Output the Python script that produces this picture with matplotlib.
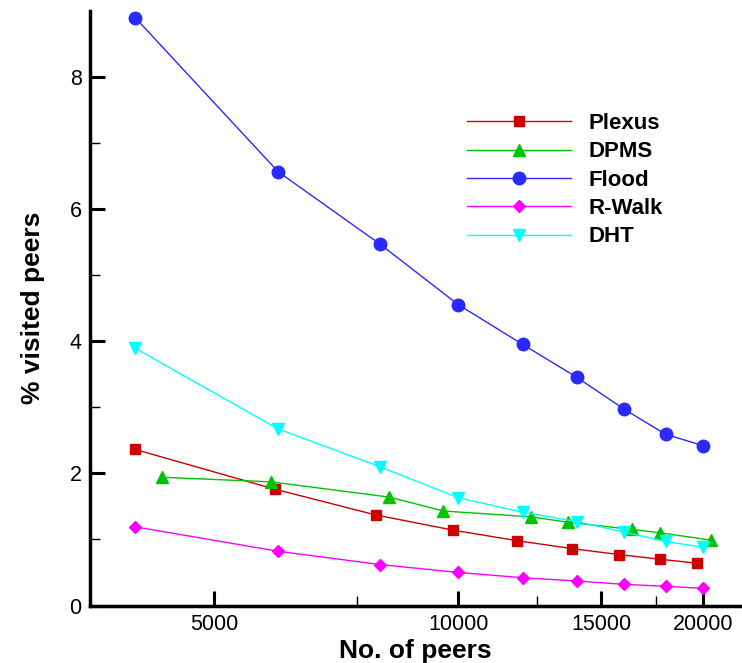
import matplotlib
matplotlib.use('Agg')
import matplotlib.pyplot as plt
from matplotlib.ticker import NullFormatter

plt.rcParams['font.family'] = ['Liberation Sans', 'DejaVu Sans']

# peers counts per series
peers = [4000, 6000, 8000, 10000, 12000, 14000, 16000, 18000, 20000]
peers_plexus = [4000, 5940, 7910, 9850, 11820, 13820, 15790, 17720, 19680]
peers_dpms = [4310, 5880, 8220, 9580, 12300, 13650, 16360, 17720, 20450]

# % visited peers
plexus = [2.36, 1.76, 1.37, 1.14, 0.98, 0.86, 0.77, 0.70, 0.64]
dpms = [1.94, 1.87, 1.64, 1.43, 1.34, 1.26, 1.15, 1.10, 0.99]
flood = [8.89, 6.56, 5.47, 4.55, 3.95, 3.45, 2.97, 2.59, 2.42]
rwalk = [1.19, 0.82, 0.62, 0.50, 0.42, 0.37, 0.32, 0.29, 0.26]
dht = [3.89, 2.67, 2.10, 1.63, 1.41, 1.27, 1.11, 0.97, 0.88]

xticks = [5000, 10000, 15000, 20000]
xticks_minor = [7500, 12500, 17500]

fig = plt.figure(figsize=(7.42, 6.63), dpi=100)
ax = fig.add_axes([90/742, 57.5/663, 650/742, 595/663])

ax.plot(peers_plexus, plexus, color='#CC0000', lw=1, marker='s', ms=7, label='Plexus')
ax.plot(peers_dpms, dpms, color='#00C400', lw=1, marker='^', ms=8, label='DPMS')
ax.plot(peers, flood, color='#2A2AFF', lw=1, marker='o', ms=9, label='Flood')
ax.plot(peers, rwalk, color='#FF00FF', lw=1, marker='D', ms=6.5, label='R-Walk')
ax.plot(peers, dht, color='#00FFFF', lw=1, marker='v', ms=8, label='DHT')

ax.set_xscale('log')
ax.set_xlim(3518, 22230)
ax.set_ylim(0, 9)
ax.set_xticks(xticks, labels=[str(t) for t in xticks])
ax.set_xticks(xticks_minor, minor=True)
ax.xaxis.set_minor_formatter(NullFormatter())
ax.set_yticks([0, 2, 4, 6, 8])
ax.set_yticks([1, 3, 5, 7], minor=True)

for s in ['top', 'right']:
    ax.spines[s].set_visible(False)
for s in ['left', 'bottom']:
    ax.spines[s].set_linewidth(2.5)

ax.tick_params(which='major', direction='in', length=11, width=2.2, labelsize=15.5, pad=6)
ax.tick_params(which='minor', direction='in', length=7, width=1)

ax.set_xlabel('No. of peers', fontsize=19, fontweight='bold', labelpad=3)
ax.set_ylabel('% visited peers', fontsize=19, fontweight='bold', labelpad=18)

ax.legend(loc='upper left', bbox_to_anchor=(467/742, 1 - 113/663), bbox_transform=fig.transFigure,
          frameon=False, prop={'size': 16, 'weight': 'bold'}, handlelength=4.7, handletextpad=0.77,
          labelspacing=0.33, borderpad=0, borderaxespad=0)

fig.savefig('out.png', dpi=100)
